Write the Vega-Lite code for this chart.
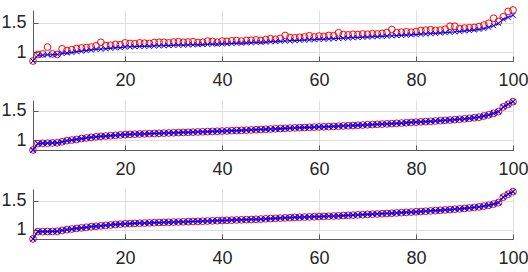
{
"$schema": "https://vega.github.io/schema/vega-lite/v6.json",
"padding": {"left": 0, "top": 4, "right": 0, "bottom": 0},
"background": "white",
"datasets": {
"p1": [
{"x":1,"r":0.855,"b":0.855},{"x":2,"r":0.965,"b":0.95},{"x":3,"r":0.975,"b":0.955},{"x":4,"r":1.09,"b":0.96},{"x":5,"r":0.975,"b":0.96},
{"x":6,"r":0.965,"b":0.965},{"x":7,"r":1.06,"b":0.98},{"x":8,"r":1.03,"b":0.99},{"x":9,"r":1.045,"b":1.0},{"x":10,"r":1.065,"b":1.01},
{"x":11,"r":1.075,"b":1.02},{"x":12,"r":1.08,"b":1.03},{"x":13,"r":1.09,"b":1.04},{"x":14,"r":1.11,"b":1.05},{"x":15,"r":1.17,"b":1.055},
{"x":16,"r":1.115,"b":1.06},{"x":17,"r":1.12,"b":1.07},{"x":18,"r":1.135,"b":1.075},{"x":19,"r":1.13,"b":1.08},{"x":20,"r":1.16,"b":1.09},
{"x":21,"r":1.15,"b":1.093},{"x":22,"r":1.145,"b":1.096},{"x":23,"r":1.16,"b":1.1},{"x":24,"r":1.155,"b":1.102},{"x":25,"r":1.15,"b":1.105},
{"x":26,"r":1.165,"b":1.108},{"x":27,"r":1.17,"b":1.11},{"x":28,"r":1.17,"b":1.112},{"x":29,"r":1.16,"b":1.115},{"x":30,"r":1.175,"b":1.118},
{"x":31,"r":1.18,"b":1.12},{"x":32,"r":1.17,"b":1.122},{"x":33,"r":1.175,"b":1.125},{"x":34,"r":1.18,"b":1.127},{"x":35,"r":1.165,"b":1.13},
{"x":36,"r":1.17,"b":1.133},{"x":37,"r":1.19,"b":1.135},{"x":38,"r":1.185,"b":1.138},{"x":39,"r":1.17,"b":1.14},{"x":40,"r":1.19,"b":1.143},
{"x":41,"r":1.185,"b":1.146},{"x":42,"r":1.195,"b":1.15},{"x":43,"r":1.2,"b":1.153},{"x":44,"r":1.19,"b":1.156},{"x":45,"r":1.2,"b":1.16},
{"x":46,"r":1.205,"b":1.163},{"x":47,"r":1.21,"b":1.167},{"x":48,"r":1.2,"b":1.17},{"x":49,"r":1.215,"b":1.174},{"x":50,"r":1.23,"b":1.178},
{"x":51,"r":1.22,"b":1.182},{"x":52,"r":1.235,"b":1.186},{"x":53,"r":1.285,"b":1.19},{"x":54,"r":1.25,"b":1.194},{"x":55,"r":1.245,"b":1.198},
{"x":56,"r":1.255,"b":1.202},{"x":57,"r":1.26,"b":1.206},{"x":58,"r":1.28,"b":1.21},{"x":59,"r":1.26,"b":1.214},{"x":60,"r":1.275,"b":1.218},
{"x":61,"r":1.27,"b":1.222},{"x":62,"r":1.285,"b":1.226},{"x":63,"r":1.28,"b":1.23},{"x":64,"r":1.33,"b":1.234},{"x":65,"r":1.3,"b":1.238},
{"x":66,"r":1.295,"b":1.242},{"x":67,"r":1.305,"b":1.246},{"x":68,"r":1.3,"b":1.25},{"x":69,"r":1.31,"b":1.254},{"x":70,"r":1.305,"b":1.258},
{"x":71,"r":1.315,"b":1.262},{"x":72,"r":1.31,"b":1.266},{"x":73,"r":1.32,"b":1.27},{"x":74,"r":1.335,"b":1.274},{"x":75,"r":1.385,"b":1.278},
{"x":76,"r":1.33,"b":1.282},{"x":77,"r":1.34,"b":1.286},{"x":78,"r":1.345,"b":1.29},{"x":79,"r":1.34,"b":1.295},{"x":80,"r":1.35,"b":1.3},
{"x":81,"r":1.37,"b":1.305},{"x":82,"r":1.375,"b":1.31},{"x":83,"r":1.38,"b":1.315},{"x":84,"r":1.37,"b":1.32},{"x":85,"r":1.375,"b":1.326},
{"x":86,"r":1.39,"b":1.332},{"x":87,"r":1.44,"b":1.338},{"x":88,"r":1.44,"b":1.345},{"x":89,"r":1.4,"b":1.352},{"x":90,"r":1.41,"b":1.36},
{"x":91,"r":1.415,"b":1.368},{"x":92,"r":1.42,"b":1.377},{"x":93,"r":1.435,"b":1.387},{"x":94,"r":1.46,"b":1.4},{"x":95,"r":1.49,"b":1.42},
{"x":96,"r":1.575,"b":1.45},{"x":97,"r":1.52,"b":1.49},{"x":98,"r":1.6,"b":1.56},{"x":99,"r":1.69,"b":1.59},{"x":100,"r":1.714,"b":1.625}
],
"p2": [
{"x":1,"v":0.83},{"x":2,"v":0.94},{"x":3,"v":0.945},{"x":4,"v":0.947},{"x":5,"v":0.95},{"x":6,"v":0.953},{"x":7,"v":0.97},{"x":8,"v":0.99},{"x":9,"v":1.0},{"x":10,"v":1.01},
{"x":11,"v":1.025},{"x":12,"v":1.035},{"x":13,"v":1.045},{"x":14,"v":1.055},{"x":15,"v":1.062},{"x":16,"v":1.068},{"x":17,"v":1.074},{"x":18,"v":1.08},{"x":19,"v":1.087},{"x":20,"v":1.093},
{"x":21,"v":1.097},{"x":22,"v":1.1},{"x":23,"v":1.103},{"x":24,"v":1.106},{"x":25,"v":1.109},{"x":26,"v":1.112},{"x":27,"v":1.115},{"x":28,"v":1.118},{"x":29,"v":1.121},{"x":30,"v":1.124},
{"x":31,"v":1.127},{"x":32,"v":1.13},{"x":33,"v":1.132},{"x":34,"v":1.135},{"x":35,"v":1.138},{"x":36,"v":1.141},{"x":37,"v":1.144},{"x":38,"v":1.147},{"x":39,"v":1.15},{"x":40,"v":1.153},
{"x":41,"v":1.156},{"x":42,"v":1.159},{"x":43,"v":1.162},{"x":44,"v":1.165},{"x":45,"v":1.168},{"x":46,"v":1.172},{"x":47,"v":1.176},{"x":48,"v":1.18},{"x":49,"v":1.184},{"x":50,"v":1.188},
{"x":51,"v":1.192},{"x":52,"v":1.196},{"x":53,"v":1.2},{"x":54,"v":1.204},{"x":55,"v":1.208},{"x":56,"v":1.211},{"x":57,"v":1.214},{"x":58,"v":1.217},{"x":59,"v":1.22},{"x":60,"v":1.223},
{"x":61,"v":1.226},{"x":62,"v":1.229},{"x":63,"v":1.232},{"x":64,"v":1.236},{"x":65,"v":1.24},{"x":66,"v":1.244},{"x":67,"v":1.248},{"x":68,"v":1.252},{"x":69,"v":1.256},{"x":70,"v":1.26},
{"x":71,"v":1.264},{"x":72,"v":1.268},{"x":73,"v":1.272},{"x":74,"v":1.276},{"x":75,"v":1.28},{"x":76,"v":1.285},{"x":77,"v":1.29},{"x":78,"v":1.295},{"x":79,"v":1.3},{"x":80,"v":1.305},
{"x":81,"v":1.31},{"x":82,"v":1.315},{"x":83,"v":1.32},{"x":84,"v":1.325},{"x":85,"v":1.33},{"x":86,"v":1.336},{"x":87,"v":1.342},{"x":88,"v":1.348},{"x":89,"v":1.355},{"x":90,"v":1.362},
{"x":91,"v":1.37},{"x":92,"v":1.38},{"x":93,"v":1.39},{"x":94,"v":1.41},{"x":95,"v":1.43},{"x":96,"v":1.455},{"x":97,"v":1.485},{"x":98,"v":1.565},{"x":99,"v":1.61},{"x":100,"v":1.655}
],
"p3": [
{"x":1,"v":0.84},{"x":2,"v":0.965},{"x":3,"v":0.965},{"x":4,"v":0.967},{"x":5,"v":0.968},{"x":6,"v":0.97},{"x":7,"v":0.985},{"x":8,"v":1.0},{"x":9,"v":1.01},{"x":10,"v":1.02},
{"x":11,"v":1.03},{"x":12,"v":1.04},{"x":13,"v":1.05},{"x":14,"v":1.058},{"x":15,"v":1.065},{"x":16,"v":1.072},{"x":17,"v":1.08},{"x":18,"v":1.088},{"x":19,"v":1.095},{"x":20,"v":1.1},
{"x":21,"v":1.104},{"x":22,"v":1.107},{"x":23,"v":1.11},{"x":24,"v":1.113},{"x":25,"v":1.116},{"x":26,"v":1.119},{"x":27,"v":1.122},{"x":28,"v":1.125},{"x":29,"v":1.127},{"x":30,"v":1.13},
{"x":31,"v":1.132},{"x":32,"v":1.135},{"x":33,"v":1.137},{"x":34,"v":1.14},{"x":35,"v":1.142},{"x":36,"v":1.145},{"x":37,"v":1.148},{"x":38,"v":1.151},{"x":39,"v":1.154},{"x":40,"v":1.157},
{"x":41,"v":1.16},{"x":42,"v":1.163},{"x":43,"v":1.166},{"x":44,"v":1.169},{"x":45,"v":1.172},{"x":46,"v":1.175},{"x":47,"v":1.178},{"x":48,"v":1.182},{"x":49,"v":1.186},{"x":50,"v":1.19},
{"x":51,"v":1.194},{"x":52,"v":1.198},{"x":53,"v":1.202},{"x":54,"v":1.206},{"x":55,"v":1.21},{"x":56,"v":1.213},{"x":57,"v":1.216},{"x":58,"v":1.219},{"x":59,"v":1.222},{"x":60,"v":1.225},
{"x":61,"v":1.228},{"x":62,"v":1.231},{"x":63,"v":1.234},{"x":64,"v":1.238},{"x":65,"v":1.242},{"x":66,"v":1.246},{"x":67,"v":1.25},{"x":68,"v":1.254},{"x":69,"v":1.258},{"x":70,"v":1.262},
{"x":71,"v":1.266},{"x":72,"v":1.27},{"x":73,"v":1.274},{"x":74,"v":1.278},{"x":75,"v":1.282},{"x":76,"v":1.287},{"x":77,"v":1.292},{"x":78,"v":1.297},{"x":79,"v":1.302},{"x":80,"v":1.307},
{"x":81,"v":1.312},{"x":82,"v":1.317},{"x":83,"v":1.322},{"x":84,"v":1.327},{"x":85,"v":1.333},{"x":86,"v":1.339},{"x":87,"v":1.345},{"x":88,"v":1.352},{"x":89,"v":1.358},{"x":90,"v":1.365},
{"x":91,"v":1.373},{"x":92,"v":1.382},{"x":93,"v":1.392},{"x":94,"v":1.405},{"x":95,"v":1.42},{"x":96,"v":1.44},{"x":97,"v":1.465},{"x":98,"v":1.56},{"x":99,"v":1.61},{"x":100,"v":1.655}
]
},
"bounds": "flush",
"spacing": 39,
"vconcat": [
{
"width": 480, "height": 51,
"data": {"name": "p1"},
"encoding": {"x": {"field": "x", "type": "quantitative", "scale": {"domain": [1, 100], "nice": false, "zero": false}, "axis": {"values": [20, 40, 60, 80, 100], "format": "d"}}},
"layer": [
{"mark": {"type": "point", "shape": "circle", "filled": false, "stroke": "#ff0000", "strokeWidth": 1, "size": 46, "opacity": 1}, "encoding": {"y": {"field": "r", "type": "quantitative", "scale": {"domain": [0.855, 1.714], "nice": false, "zero": false}, "axis": {"values": [1, 1.5], "format": ".1~f"}}}},
{"mark": {"type": "line", "stroke": "#0000ff", "strokeWidth": 1}, "encoding": {"y": {"field": "b", "type": "quantitative"}}},
{"mark": {"type": "point", "shape": "M-1,-1L1,1M-1,1L1,-1", "filled": false, "stroke": "#0000ff", "strokeWidth": 1, "size": 25, "opacity": 1}, "encoding": {"y": {"field": "b", "type": "quantitative"}}}
]
},
{
"width": 480, "height": 50,
"data": {"name": "p2"},
"encoding": {"x": {"field": "x", "type": "quantitative", "scale": {"domain": [1, 100], "nice": false, "zero": false}, "axis": {"values": [20, 40, 60, 80, 100], "format": "d"}}},
"layer": [
{"mark": {"type": "point", "shape": "circle", "filled": false, "stroke": "#ff0000", "strokeWidth": 1, "size": 46, "opacity": 1}, "encoding": {"y": {"field": "v", "type": "quantitative", "scale": {"domain": [0.83, 1.683], "nice": false, "zero": false}, "axis": {"values": [1, 1.5], "format": ".1~f"}}}},
{"mark": {"type": "line", "stroke": "#0000ff", "strokeWidth": 1.2}, "encoding": {"y": {"field": "v", "type": "quantitative"}}},
{"mark": {"type": "point", "shape": "M-1,-1L1,1M-1,1L1,-1", "filled": false, "stroke": "#0000ff", "strokeWidth": 1.1, "size": 25, "opacity": 1}, "encoding": {"y": {"field": "v", "type": "quantitative"}}}
]
},
{
"width": 480, "height": 50,
"data": {"name": "p3"},
"encoding": {"x": {"field": "x", "type": "quantitative", "scale": {"domain": [1, 100], "nice": false, "zero": false}, "axis": {"values": [20, 40, 60, 80, 100], "format": "d"}}},
"layer": [
{"mark": {"type": "point", "shape": "circle", "filled": false, "stroke": "#ff0000", "strokeWidth": 1, "size": 46, "opacity": 1}, "encoding": {"y": {"field": "v", "type": "quantitative", "scale": {"domain": [0.838, 1.7], "nice": false, "zero": false}, "axis": {"values": [1, 1.5], "format": ".1~f"}}}},
{"mark": {"type": "line", "stroke": "#0000ff", "strokeWidth": 1.2}, "encoding": {"y": {"field": "v", "type": "quantitative"}}},
{"mark": {"type": "point", "shape": "M-1,-1L1,1M-1,1L1,-1", "filled": false, "stroke": "#0000ff", "strokeWidth": 1.1, "size": 25, "opacity": 1}, "encoding": {"y": {"field": "v", "type": "quantitative"}}}
]
}
],
"config": {
"font": "Liberation Sans",
"view": {"stroke": null},
"axis": {"title": null, "labelFontSize": 18, "labelColor": "#262626", "domainColor": "#595959", "domainWidth": 1, "tickColor": "#595959", "tickSize": -5, "gridColor": "#dedede", "gridWidth": 1, "labelFlush": false, "labelOverlap": false},
"axisX": {"labelPadding": 15},
"axisY": {"labelPadding": 12}
}
}
